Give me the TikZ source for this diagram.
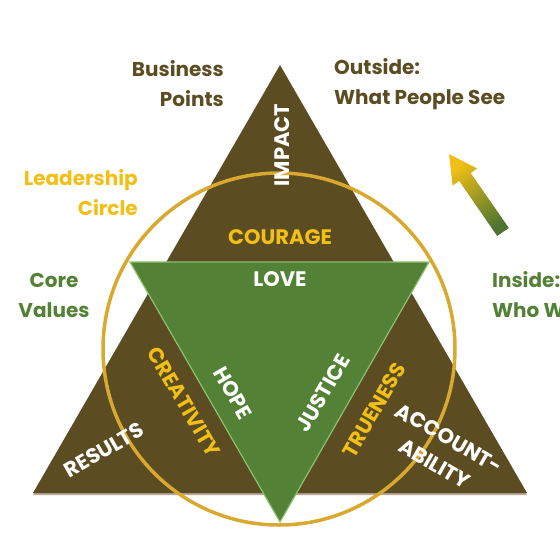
\documentclass[tikz,border=0pt]{standalone}
\usepackage{fontspec}
\setmainfont{Poppins}
\usepackage{tikz}

\definecolor{earth}{HTML}{5B4C22}
\definecolor{leaf}{HTML}{538135}
\definecolor{leafline}{HTML}{8DC06F}
\definecolor{sun}{HTML}{F2BF17}
\definecolor{ring}{HTML}{D8A92E}
\definecolor{dust}{HTML}{B8A594}

\tikzset{
    word/.style={font=\fontsize{20}{30}\selectfont\bfseries, align=center, inner sep=0pt},
    capword/.style={word, font=\fontsize{21}{29}\selectfont\bfseries},
}

\begin{document}
\begin{tikzpicture}[x=1pt, y=-1pt]

        \useasboundingbox (0,0) rectangle (560,560);

        % corners
        \coordinate (apex) at (280, 65);
        \coordinate (bl) at (33, 493);
        \coordinate (br) at (527, 493);
        \coordinate (gl) at (130, 262);
        \coordinate (gr) at (429, 262);
        \coordinate (gb) at (280, 522);

        % outer triangle
        \fill[dust] ([yshift=-2pt]apex) -- ([yshift=-2pt]bl) -- ([yshift=-2pt]br) -- cycle;
        \fill[earth] (apex) -- (bl) -- (br) -- cycle;

        % circle
        \draw[ring, line width=3.5pt] (279, 349) circle (176);

        % inner triangle
        \filldraw[fill=leaf, draw=leafline, line width=1.2pt] (gl) -- (gr) -- (gb) -- cycle;

        % arrow
        \shade[top color=sun, bottom color=leaf!90!black, shading angle=35]
            (449,154) -- (477.2,168.5) -- (470.7,173) -- (508.8,228)
            -- (497.2,236) -- (459.2,181) -- (452.6,185.5) -- cycle;

        % labels outside
        \node[word, text=earth, align=right, anchor=east] (business) at (224, 84) {Business\\Points};
        \node[word, text=earth, align=left, anchor=west] (outside) at (334, 84) {Outside:\\What People See};
        \node[word, text=sun, align=right, anchor=east] (leadership) at (138, 193) {Leadership\\Circle};
        \node[word, text=leaf, align=center] (core) at (54, 295) {Core\\Values};
        \node[word, text=leaf, align=left, anchor=west] (inside) at (492, 295) {Inside:\\Who We Are};

        % labels inside
        \node[capword, text=white, rotate=90] (impact) at (282, 145) {IMPACT};
        \node[capword, text=sun] (courage) at (280, 237) {COURAGE};
        \node[capword, text=white] (love) at (280, 279) {LOVE};
        \node[capword, text=white, rotate=-60] (hope) at (233, 393) {HOPE};
        \node[capword, text=sun, rotate=-60] (creativity) at (184, 402) {CREATIVITY};
        \node[capword, text=white, rotate=30] (results) at (104, 450) {RESULTS};
        \node[capword, text=white, rotate=60] (justice) at (323, 393) {JUSTICE};
        \node[capword, text=sun, rotate=60] (trueness) at (374, 410) {TRUENESS};
        \node[capword, text=white, rotate=-30] (accountability) at (442, 451) {ACCOUNT-\\ABILITY};

    \end{tikzpicture}
\end{document}
